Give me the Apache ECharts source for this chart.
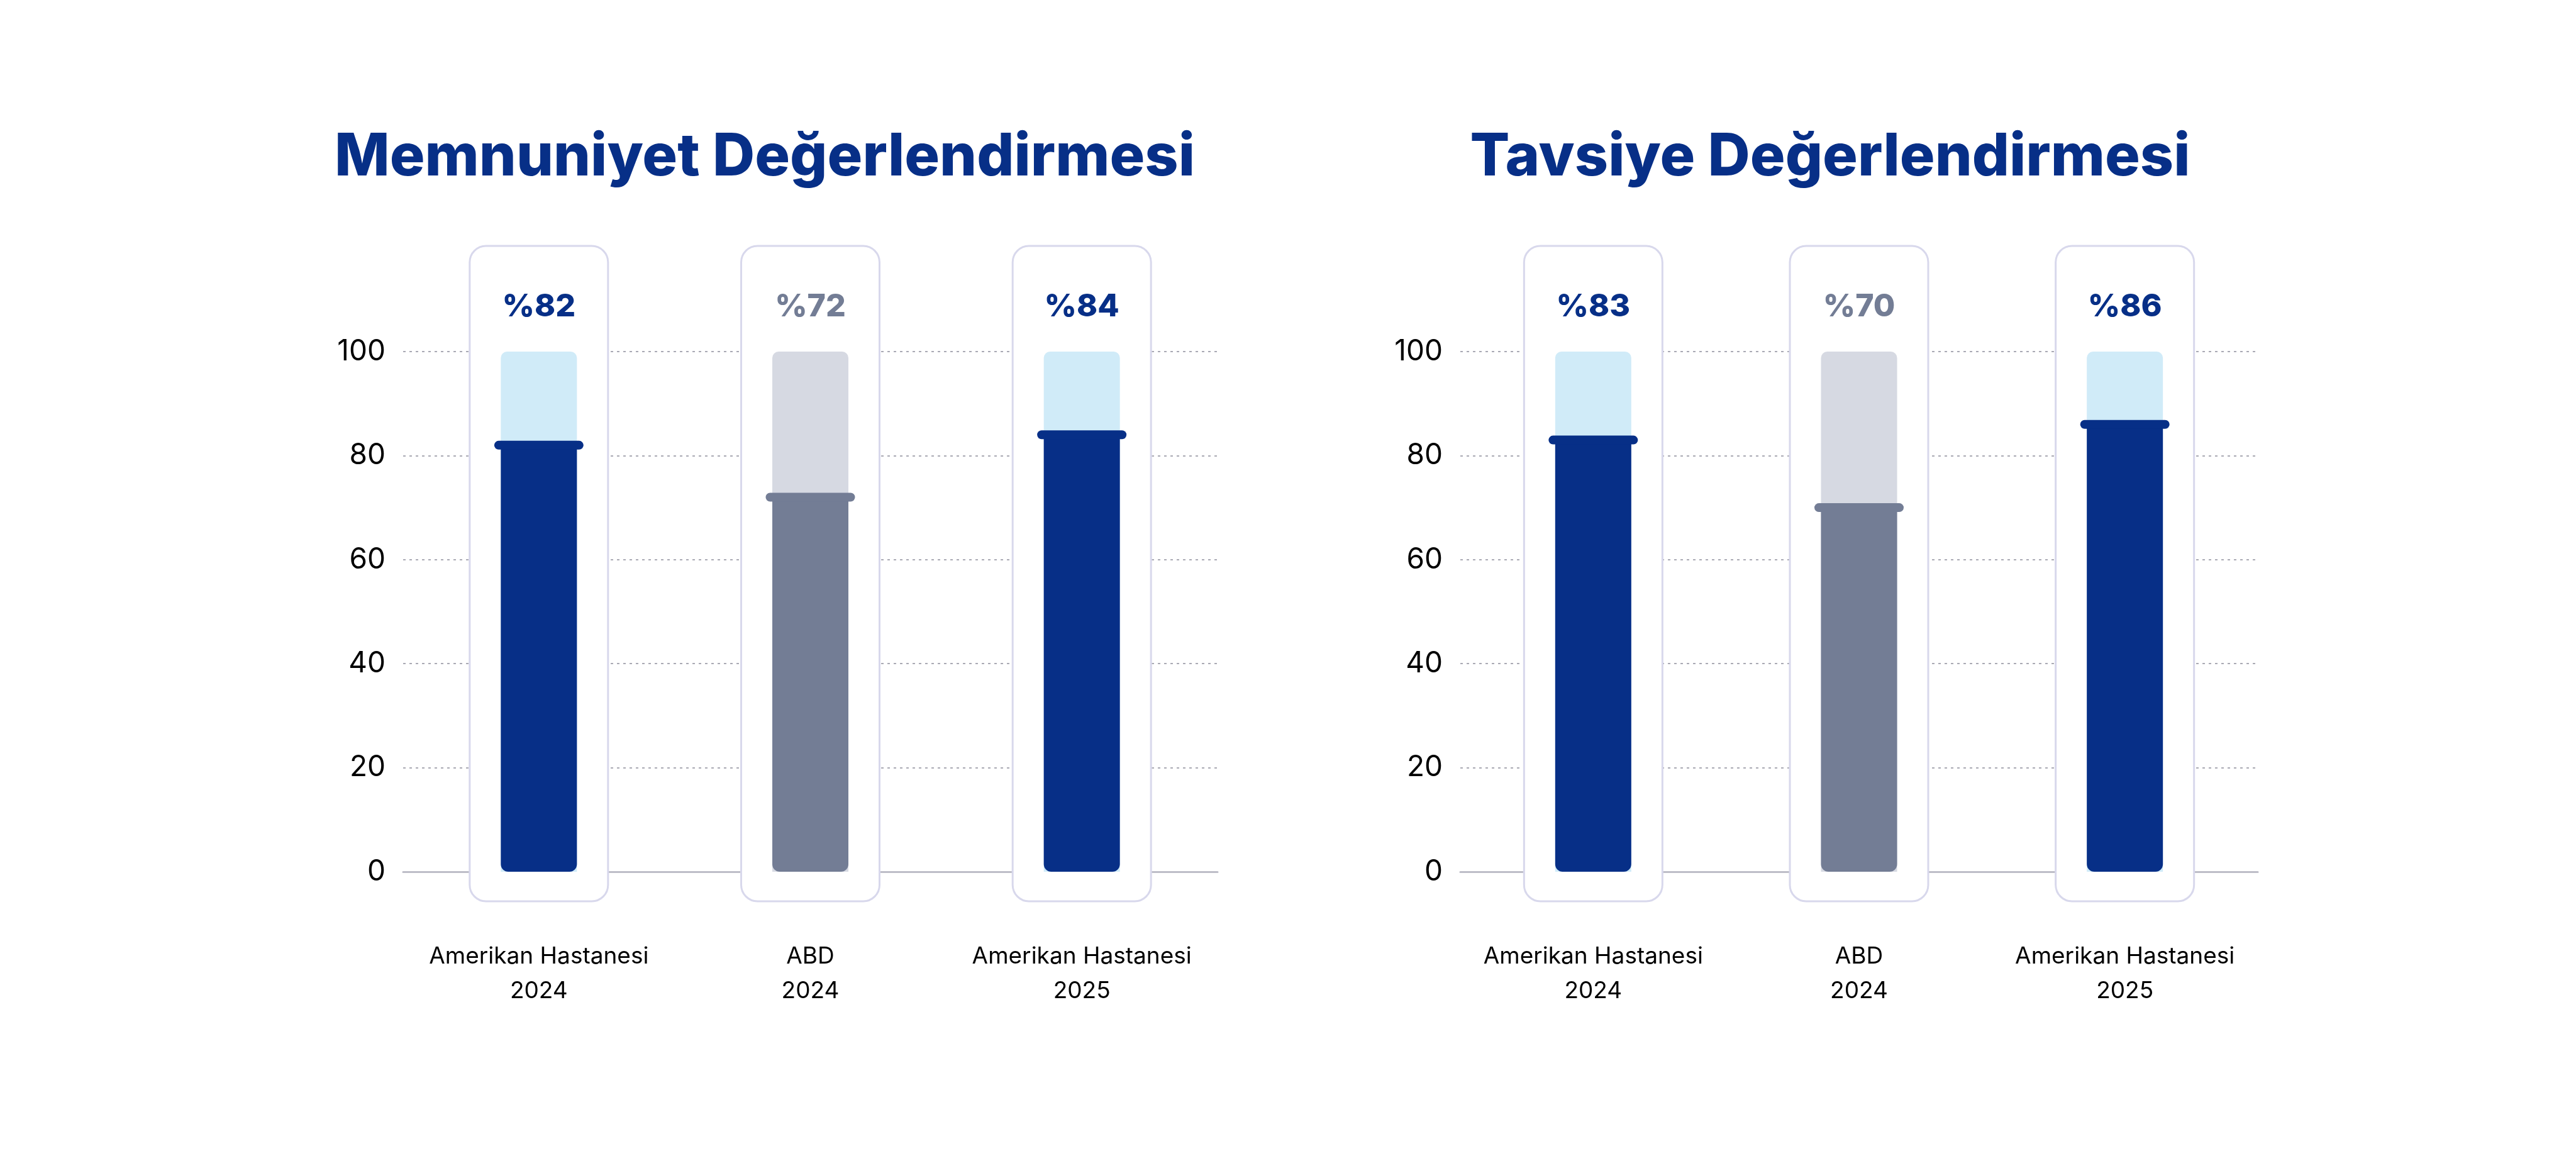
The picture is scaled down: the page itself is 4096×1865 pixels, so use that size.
<!DOCTYPE html>
<html><head><meta charset="utf-8">
<script src="https://cdn.jsdelivr.net/npm/echarts@6/dist/echarts.min.js"></script>
<style>html,body{margin:0;padding:0;background:#fff}#c{width:4096px;height:1865px}</style>
</head><body><div id="c"></div>
<script>
const categories = ['Amerikan Hastanesi\n2024', 'ABD\n2024', 'Amerikan Hastanesi\n2025'];
const satisfaction = [82, 72, 84];
const recommendation = [83, 70, 86];
const yTicks = [0, 20, 40, 60, 80, 100];
const titles = ['Memnuniyet Değerlendirmesi', 'Tavsiye Değerlendirmesi'];

const DARK = '#072F87', LIGHT = '#D0EBF8', GRAY = '#737D95', LGRAY = '#D6D9E2';
const fg = i => i === 1 ? GRAY : DARK;
const bg = i => i === 1 ? LGRAY : LIGHT;
const FONT = 'Inter';

const grids = [
  {left: 641, width: 1295, top: 559, height: 827},
  {left: 2322, width: 1268, top: 559, height: 827}
];
const titleCenters = [1211, 2905];

function buildSeries(gi, vals) {
  return [
    {
      type: 'custom', xAxisIndex: gi, yAxisIndex: gi, clip: false, z: 1,
      data: vals.map((v, i) => [i, v]),
      renderItem: (p, api) => {
        const c0 = api.coord([api.value(0), 0]);
        const c1 = api.coord([api.value(0), 100]);
        return {type: 'rect', shape: {x: c0[0] - 110, y: c1[1] - 168, width: 220, height: c0[1] - c1[1] + 215, r: 26},
          style: {fill: '#fff', stroke: '#D8D8EC', lineWidth: 3}};
      }
    },
    {
      type: 'bar', xAxisIndex: gi, yAxisIndex: gi, barWidth: 121, barGap: '-100%', z: 2,
      data: vals.map((v, i) => ({value: 100, itemStyle: {color: bg(i), borderRadius: [10, 10, 0, 0]}}))
    },
    {
      type: 'bar', xAxisIndex: gi, yAxisIndex: gi, barWidth: 121, barGap: '-100%', z: 3,
      data: vals.map((v, i) => ({value: v, itemStyle: {color: fg(i), borderRadius: [0, 0, 12, 12]}}))
    },
    {
      type: 'custom', xAxisIndex: gi, yAxisIndex: gi, clip: false, z: 4,
      data: vals.map((v, i) => [i, v]),
      renderItem: (p, api) => {
        const i = api.value(0);
        const c = api.coord([i, api.value(1)]);
        const t = api.coord([i, 100]);
        return {type: 'group', children: [
          {type: 'line', shape: {x1: c[0] - 64, y1: c[1], x2: c[0] + 64, y2: c[1]},
            style: {stroke: fg(i), lineWidth: 14, lineCap: 'round'}},
          {type: 'text', style: {text: '%' + api.value(1), x: t[0], y: t[1] - 71, align: 'center', verticalAlign: 'middle',
            fill: fg(i), font: `800 50px ${FONT}`}}
        ]};
      }
    }
  ];
}

const xAxes = [0, 1].map(gi => ({
  type: 'category', gridIndex: gi, data: categories,
  axisLine: {lineStyle: {color: '#BDBDC8', width: 3}}, axisTick: {show: false},
  axisLabel: {color: '#000', fontFamily: FONT, fontSize: 37, lineHeight: 55, margin: 107, interval: 0}
}));
const yAxes = [0, 1].map(gi => ({
  type: 'value', gridIndex: gi, min: 0, max: 100, interval: 20,
  axisLabel: {color: '#000', fontFamily: FONT, fontSize: 46, margin: 28,
    formatter: v => yTicks.includes(v) ? String(v) : ''},
  splitLine: {lineStyle: {color: '#AAAAB4', type: [4, 6], width: 2}},
  axisLine: {show: false}, axisTick: {show: false}
}));

const chart = echarts.init(document.getElementById('c'));
chart.setOption({
  animation: false,
  title: titleCenters.map((x, i) => ({text: titles[i], left: x, top: 200, textAlign: 'center',
    textStyle: {color: DARK, fontFamily: FONT, fontWeight: 800, fontSize: 93}})),
  grid: grids,
  xAxis: xAxes, yAxis: yAxes,
  series: [...buildSeries(0, satisfaction), ...buildSeries(1, recommendation)]
});
</script></body></html>
